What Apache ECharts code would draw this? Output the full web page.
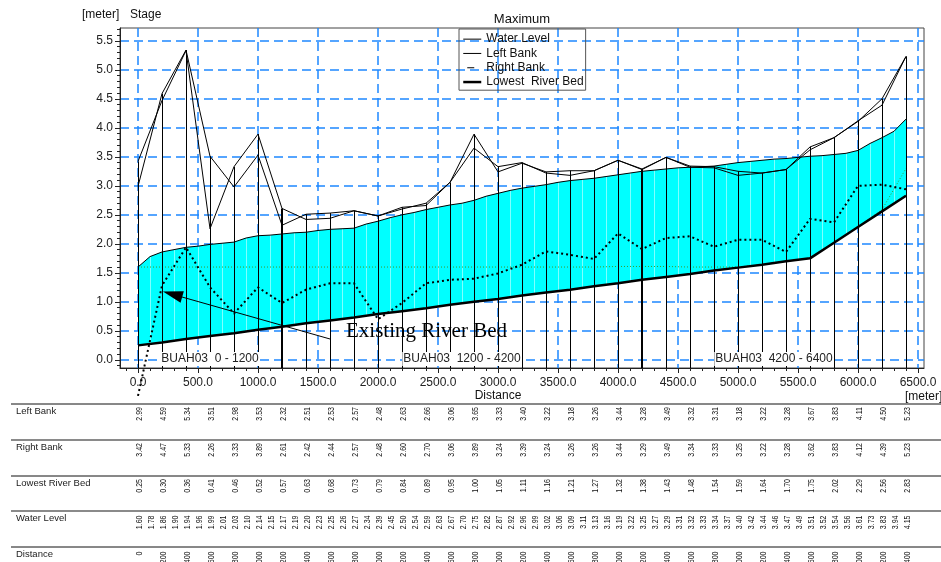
<!DOCTYPE html>
<html>
<head>
<meta charset="utf-8">
<script src="https://cdn.jsdelivr.net/npm/echarts@6/dist/echarts.min.js"></script>
<style>
  html, body { margin: 0; padding: 0; background: #fff; }
  #chart { width: 941px; height: 562px; }
</style>
</head>
<body>
<div id="chart"></div>
<script>
// ---- data -------------------------------------------------------------
// cross-section chainages [m]
const stationDistances = [0, 200, 400, 600, 800, 1000, 1200, 1400, 1600, 1800, 2000, 2200, 2400, 2600, 2800, 3000,
  3200, 3400, 3600, 3800, 4000, 4200, 4400, 4600, 4800, 5000, 5200, 5400, 5600, 5800, 6000, 6200, 6400];
const leftBank = [2.99, 4.59, 5.34, 3.51, 2.98, 3.53, 2.32, 2.51, 2.53, 2.57, 2.48, 2.63, 2.66, 3.06, 3.65, 3.33,
  3.40, 3.22, 3.18, 3.26, 3.44, 3.28, 3.49, 3.32, 3.31, 3.18, 3.22, 3.28, 3.67, 3.83, 4.11, 4.50, 5.23];
const rightBank = [3.42, 4.47, 5.33, 2.26, 3.33, 3.89, 2.61, 2.42, 2.44, 2.57, 2.48, 2.60, 2.70, 3.06, 3.89, 3.24,
  3.39, 3.24, 3.26, 3.26, 3.44, 3.29, 3.49, 3.34, 3.33, 3.25, 3.22, 3.28, 3.62, 3.83, 4.12, 4.39, 5.23];
const lowestBed = [0.25, 0.30, 0.36, 0.41, 0.46, 0.52, 0.57, 0.63, 0.68, 0.73, 0.79, 0.84, 0.89, 0.95, 1.00, 1.05,
  1.11, 1.16, 1.21, 1.27, 1.32, 1.38, 1.43, 1.48, 1.54, 1.59, 1.64, 1.70, 1.75, 2.02, 2.29, 2.56, 2.83];
// existing river bed profile (dotted)
const existingBed = [-0.62, 1.28, 1.94, 1.25, 0.80, 1.25, 0.98, 1.21, 1.32, 1.32, 0.70, 0.98, 1.32, 1.38, 1.40, 1.49,
  1.64, 1.87, 1.81, 1.74, 2.18, 1.91, 2.10, 2.13, 1.95, 2.07, 2.07, 1.86, 2.43, 2.37, 3.00, 3.02, 2.94];
// initial water level (thin green dotted)
const initialLevel = [1.60, 1.60, 1.60, 1.60, 1.60, 1.60, 1.60, 1.60, 1.60, 1.60, 1.60, 1.60, 1.60, 1.60, 1.60, 1.60,
  1.60, 1.60, 1.60, 1.60, 1.61, 1.61, 1.61, 1.60, 1.60, 1.60, 1.64, 1.70, 1.75, 2.02, 2.29, 2.59, 3.30];

// computational water-level points [m]
const waterDistances = [0, 100, 200, 300, 400, 500, 600, 700, 800, 900, 1000, 1100, 1200, 1300, 1400, 1500, 1600,
  1700, 1800, 1900, 2000, 2100, 2200, 2300, 2400, 2500, 2600, 2700, 2800, 2900, 3000, 3100, 3200, 3300, 3400,
  3500, 3600, 3700, 3800, 3900, 4000, 4100, 4200, 4300, 4400, 4500, 4600, 4700, 4800, 4900, 5000, 5100, 5200,
  5300, 5400, 5500, 5600, 5700, 5800, 5900, 6000, 6100, 6200, 6300, 6400];
const waterLevel = [1.60, 1.78, 1.86, 1.90, 1.94, 1.96, 1.99, 2.01, 2.03, 2.10, 2.14, 2.15, 2.17, 2.19, 2.20, 2.23,
  2.25, 2.26, 2.27, 2.34, 2.39, 2.45, 2.50, 2.54, 2.59, 2.63, 2.67, 2.70, 2.75, 2.82, 2.87, 2.92, 2.96, 2.99,
  3.02, 3.06, 3.09, 3.11, 3.13, 3.16, 3.19, 3.22, 3.25, 3.27, 3.29, 3.31, 3.32, 3.33, 3.34, 3.37, 3.40, 3.42,
  3.44, 3.46, 3.47, 3.49, 3.51, 3.52, 3.54, 3.56, 3.61, 3.73, 3.83, 3.94, 4.15];

// branch reaches
const reachLabels = ['BUAH03  0 - 1200', 'BUAH03  1200 - 4200', 'BUAH03  4200 - 6400'];
const reachStarts = [0, 1200, 4200];
const reachEnds = [1200, 4200, 6400];

// annotation arrow (data coordinates)
const arrowTail = [1600, 0.36];
const arrowHead = [288, 1.13];

// axis ticks
const xMajorTicks = [0, 500, 1000, 1500, 2000, 2500, 3000, 3500, 4000, 4500, 5000, 5500, 6000, 6500];
const yMajorTicks = [0, 0.5, 1.0, 1.5, 2.0, 2.5, 3.0, 3.5, 4.0, 4.5, 5.0, 5.5];
const xMinorTicks = [];
for (let v = -100; v <= 6500; v += 100) xMinorTicks.push(v);
const yMinorTicks = [];
for (let i = -1; i <= 57; i++) yMinorTicks.push(+(i / 10).toFixed(1));

// ---- chart -------------------------------------------------------------
const FONT = '"Liberation Sans", Arial, sans-serif';
const X_MIN = -150, X_MAX = 6550, Y_MIN = -0.14, Y_MAX = 5.72;
const GRID_BLUE = '#1e88ff';

const zip = (xs, ys) => xs.map((x, i) => [x, ys[i]]);

const chart = echarts.init(document.getElementById('chart'), null, { renderer: 'canvas' });

const lineBase = {
  type: 'line', symbol: 'none', animation: false, emphasis: { disabled: true }, silent: true,
  itemStyle: { color: '#000' }
};

const option = {
  animation: false,
  backgroundColor: '#fff',
  textStyle: { fontFamily: FONT },
  grid: {
    left: 120, right: 17, top: 28, bottom: 194,
    show: true, borderColor: '#444', borderWidth: 1, backgroundColor: 'transparent',
    containLabel: false, outerBoundsMode: 'none'
  },
  legend: {
    orient: 'vertical', left: 459, top: 29,
    padding: [3, 2, 1, 3], itemGap: 0, itemWidth: 18, itemHeight: 9,
    borderColor: '#555', borderWidth: 1, backgroundColor: 'transparent',
    selectedMode: false,
    itemStyle: { opacity: 0, color: 'transparent', borderWidth: 0 },
    textStyle: { fontSize: 12, color: '#111', fontFamily: FONT, lineHeight: 14.3 },
    data: [
      { name: 'Water Level', lineStyle: { width: 1, color: '#000' } },
      { name: 'Left Bank', lineStyle: { width: 1, color: '#000' } },
      { name: 'Right Bank', lineStyle: { width: 1, color: '#000', type: [0, 4, 7, 7] } },
      { name: 'Lowest  River Bed', lineStyle: { width: 2.5, color: '#000' } }
    ]
  },
  xAxis: [{
    type: 'value', min: X_MIN, max: X_MAX, position: 'bottom',
    axisLine: { show: true, onZero: false, lineStyle: { color: '#222', width: 1 } },
    axisTick: { show: true, customValues: xMajorTicks, length: 5, lineStyle: { color: '#222' } },
    axisLabel: { customValues: xMajorTicks, formatter: v => v.toFixed(1), fontSize: 12, color: '#222', fontFamily: FONT, margin: 9 },
    splitLine: { show: true, lineStyle: { color: GRID_BLUE, width: 1.5, type: [9, 5] } }
  }, {
    type: 'value', min: X_MIN, max: X_MAX, position: 'bottom',
    axisLine: { show: false, onZero: false },
    axisTick: { show: true, customValues: xMinorTicks, length: 3, lineStyle: { color: '#222' } },
    axisLabel: { show: false }, splitLine: { show: false }
  }],
  yAxis: [{
    type: 'value', min: Y_MIN, max: Y_MAX, position: 'left',
    axisLine: { show: true, onZero: false, lineStyle: { color: '#222', width: 1 } },
    axisTick: { show: true, customValues: yMajorTicks, length: 5, lineStyle: { color: '#222' } },
    axisLabel: { customValues: yMajorTicks, formatter: v => v.toFixed(1), fontSize: 12, color: '#222', fontFamily: FONT, margin: 7 },
    splitLine: { show: true, lineStyle: { color: GRID_BLUE, width: 1.5, type: [9, 5] } }
  }, {
    type: 'value', min: Y_MIN, max: Y_MAX, position: 'left',
    axisLine: { show: false, onZero: false },
    axisTick: { show: true, customValues: yMinorTicks, length: 3, lineStyle: { color: '#222' } },
    axisLabel: { show: false }, splitLine: { show: false }
  }],
  series: [
    {
      // flow area between the lowest bed and the water surface
      type: 'custom', name: 'Flow Area', silent: true, z: 1, animation: false,
      data: [[0, 0]], encode: { x: 0, y: 1 },
      renderItem: (params, api) => {
        const top = waterDistances.map((d, i) => api.coord([d, waterLevel[i]]));
        const bed = stationDistances.map((d, i) => api.coord([d, lowestBed[i]]));
        const children = [{
          type: 'polygon', shape: { points: top.concat(bed.slice().reverse()) },
          style: { fill: '#00ffff', stroke: null }
        }];
        top.forEach((p, i) => {
          if (stationDistances.indexOf(waterDistances[i]) !== -1) return;
          for (let k = 0; k < bed.length - 1; k++) {
            const a = bed[k], b = bed[k + 1];
            if (p[0] >= a[0] && p[0] <= b[0]) {
              const yb = a[1] + (b[1] - a[1]) * (p[0] - a[0]) / (b[0] - a[0]);
              const x = Math.round(p[0]) + 0.5;
              children.push({ type: 'line', shape: { x1: x, y1: p[1], x2: x, y2: yb },
                style: { stroke: 'rgba(255,255,255,0.5)', lineWidth: 1 } });
              break;
            }
          }
        });
        return { type: 'group', children };
      }
    },
    Object.assign({}, lineBase, {
      name: 'Initial Level', z: 2, data: zip(stationDistances, initialLevel),
      lineStyle: { color: '#3f9a2a', width: 1, type: [1, 2] }
    }),
    {
      // cross-section verticals, from the axis floor up to the higher bank
      type: 'custom', name: 'Cross Sections', silent: true, z: 3, animation: false,
      data: stationDistances.map((d, i) => [d, Math.max(leftBank[i], rightBank[i])]),
      renderItem: (params, api) => {
        const d = api.value(0);
        const p1 = api.coord([d, Y_MIN]);
        const p2 = api.coord([d, api.value(1)]);
        const boundary = reachEnds.slice(0, -1).indexOf(d) !== -1;
        const x = boundary ? Math.round(p1[0]) : Math.round(p1[0]) + 0.5;
        return { type: 'line', shape: { x1: x, y1: p1[1], x2: x, y2: p2[1] },
          style: { stroke: '#000', lineWidth: boundary ? 2 : 1 } };
      }
    },
    Object.assign({}, lineBase, {
      name: 'Lowest  River Bed', z: 5, data: zip(stationDistances, lowestBed),
      lineStyle: { color: '#000', width: 2.5 }
    }),
    Object.assign({}, lineBase, {
      name: 'Water Level', z: 5, data: zip(waterDistances, waterLevel),
      lineStyle: { color: '#000', width: 1 }
    }),
    Object.assign({}, lineBase, {
      name: 'Left Bank', z: 5, data: zip(stationDistances, leftBank),
      lineStyle: { color: '#000', width: 1 }
    }),
    Object.assign({}, lineBase, {
      name: 'Right Bank', z: 5, data: zip(stationDistances, rightBank),
      lineStyle: { color: '#000', width: 1 }
    }),
    Object.assign({}, lineBase, {
      name: 'Existing River Bed', z: 6, clip: false, data: zip(stationDistances, existingBed),
      lineStyle: { color: '#000', width: 2, type: [2, 3] },
      markLine: {
        silent: true, animation: false,
        symbol: ['none', 'triangle'],
        lineStyle: { color: '#000', width: 1, type: 'solid' },
        label: { show: false },
        emphasis: { disabled: true },
        data: [[
          { coord: arrowTail, symbol: 'none' },
          { coord: arrowHead, symbol: 'triangle', symbolSize: [12, 20], itemStyle: { color: '#000' } }
        ]]
      }
    })
  ]
};

chart.setOption(option);

// ---- texts and the value table under the plot -------------------------
const px = d => chart.convertToPixel({ xAxisIndex: 0 }, d);
const g = [];
const txt = (text, x, y, opts) => g.push(Object.assign({
  type: 'text', x, y, z: 100, silent: true,
  style: Object.assign({ text, fill: '#111', font: '12px ' + FONT, align: 'left', verticalAlign: 'middle' }, opts || {})
}));

txt('[meter]', 82, 15);
txt('Stage', 130, 15);
txt('Maximum', 522, 19.5, { align: 'center', font: '13px ' + FONT });
txt('Distance', 498, 396, { align: 'center' });
txt('[meter]', 905, 397);
txt('Existing River Bed', 346, 331, { font: '21px "Liberation Serif", "Times New Roman", serif', fill: '#000' });

reachLabels.forEach((label, i) => {
  const cx = px((reachStarts[i] + reachEnds[i]) / 2);
  txt(label, cx, 359, { align: 'center', fill: '#222', backgroundColor: '#fff', padding: [1, 1, 1, 1] });
});

const rowLines = [404, 440, 476, 511, 547];
const rowStyles = [['#111', 1], ['#8a8a8a', 2], ['#111', 1], ['#8a8a8a', 2], ['#111', 1]];
const rowNames = ['Left Bank', 'Right Bank', 'Lowest River Bed', 'Water Level', 'Distance'];
const rowTopGap = [3, 3, 3, 4.5, 4.5];
const rowValues = [
  [stationDistances, leftBank.map(v => v.toFixed(2))],
  [stationDistances, rightBank.map(v => v.toFixed(2))],
  [stationDistances, lowestBed.map(v => v.toFixed(2))],
  [waterDistances, waterLevel.map(v => v.toFixed(2))],
  [stationDistances, stationDistances.map(v => String(v))]
];

rowLines.forEach((y, r) => {
  g.push({ type: 'line', z: 100, silent: true, shape: { x1: 11, y1: y, x2: 941, y2: y },
    style: { stroke: rowStyles[r][0], lineWidth: rowStyles[r][1] } });
  txt(rowNames[r], 16, y + 7.5, { font: '9.5px ' + FONT, fill: '#222' });
  const [xs, labels] = rowValues[r];
  xs.forEach((d, i) => {
    g.push({
      type: 'text', x: px(d) + 2, y: y + rowTopGap[r], z: 100, silent: true,
      rotation: Math.PI / 2, scaleX: 0.78, scaleY: 1,
      style: { text: labels[i], fill: '#111', font: '9px ' + FONT, align: 'right', verticalAlign: 'middle' }
    });
  });
});

chart.setOption({ graphic: g });
</script>
</body>
</html>
